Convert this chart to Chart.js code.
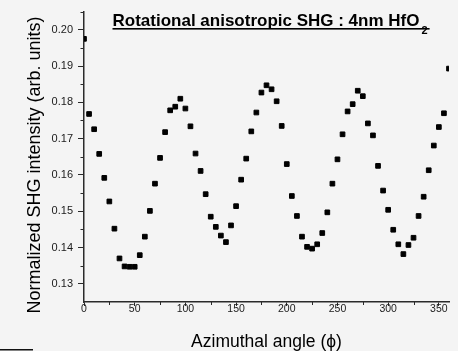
<!DOCTYPE html>
<html>
<head>
<meta charset="utf-8">
<script src="https://cdn.jsdelivr.net/npm/chart.js@4/dist/chart.umd.min.js"></script>
<style>
  html, body { margin: 0; padding: 0; background: #f4f4f4; }
  #wrap { width: 458px; height: 351px; position: relative; }
</style>
</head>
<body>
<div id="wrap"><canvas id="c" width="458" height="351"></canvas></div>
<script>
// Azimuthal angle of the sample (degrees)
const angles = [
  0, 5, 10, 15, 20, 25, 30, 35, 40, 45, 50, 55, 60, 65, 70, 75, 80, 85, 90, 95,
  100, 105, 110, 115, 120, 125, 130, 135, 140, 145, 150, 155, 160, 165, 170, 175,
  180, 185, 190, 195, 200, 205, 210, 215, 220, 225, 230, 235, 240, 245, 250, 255,
  260, 265, 270, 275, 280, 285, 290, 295, 300, 305, 310, 315, 320, 325, 330, 335,
  340, 345, 350, 355, 360
];

// Normalized SHG intensity at each angle (arb. units)
const shg = [
  0.1975, 0.1768, 0.1726, 0.1658, 0.1592, 0.1527, 0.1452, 0.1370, 0.1348, 0.1347,
  0.1347, 0.1379, 0.1430, 0.1501, 0.1576, 0.1647, 0.1718, 0.1778, 0.1788, 0.1810,
  0.1783, 0.1734, 0.1659, 0.1611, 0.1547, 0.1485, 0.1457, 0.1433, 0.1415, 0.1461,
  0.1514, 0.1587, 0.1645, 0.1720, 0.1772, 0.1827, 0.1847, 0.1836, 0.1803, 0.1735,
  0.1630, 0.1542, 0.1487, 0.1430, 0.1402, 0.1397, 0.1409, 0.1440, 0.1497, 0.1576,
  0.1643, 0.1712, 0.1775, 0.1795, 0.1832, 0.1817, 0.1742, 0.1709, 0.1625, 0.1557,
  0.1504, 0.1449, 0.1409, 0.1382, 0.1407, 0.1427, 0.1487, 0.1540, 0.1613, 0.1681,
  0.1732, 0.1770, 0.1893
];

// Axis ticks
const xMajorTicks = [0, 50, 100, 150, 200, 250, 300, 350];
const xMinorTicks = [25, 75, 125, 175, 225, 275, 325];
const yMajorTicks = [0.13, 0.14, 0.15, 0.16, 0.17, 0.18, 0.19, 0.20];
const yMinorTicks = [0.135, 0.145, 0.155, 0.165, 0.175, 0.185, 0.195, 0.205];

// Text
const chartTitle = 'Rotational anisotropic SHG : 4nm HfO';
const chartTitleSub = '2';
const xTitle = 'Azimuthal angle (\u03D5)';
const yTitle = 'Normalized SHG intensity (arb. units)';

const FONT = '"Liberation Sans", Arial, sans-serif';
const AXIS_COLOR = '#2a2a2a';

// Minor ticks, rotated y title, underlined title with subscript
const decorations = {
  id: 'decorations',
  afterDraw(chart) {
    const { ctx, chartArea, scales } = chart;
    const xs = scales.x, ys = scales.y;
    ctx.save();
    ctx.strokeStyle = AXIS_COLOR;
    ctx.lineWidth = 1;
    ctx.beginPath();
    yMinorTicks.forEach(v => {
      const y = Math.round(ys.getPixelForValue(v)) + 0.5;
      ctx.moveTo(chartArea.left - 3.5, y);
      ctx.lineTo(chartArea.left, y);
    });
    xMinorTicks.forEach(v => {
      const x = Math.round(xs.getPixelForValue(v)) + 0.5;
      ctx.moveTo(x, chartArea.bottom);
      ctx.lineTo(x, chartArea.bottom + 3);
    });
    ctx.stroke();

    // y axis title
    ctx.fillStyle = '#000';
    ctx.font = '18px ' + FONT;
    ctx.textAlign = 'center';
    ctx.textBaseline = 'middle';
    ctx.save();
    ctx.translate(35.5, 165);
    ctx.rotate(-Math.PI / 2);
    ctx.fillText(yTitle, 0, 0);
    ctx.restore();

    // chart title
    const tx = 112.5, ty = 26;
    ctx.textAlign = 'left';
    ctx.textBaseline = 'alphabetic';
    ctx.font = 'bold 17px ' + FONT;
    ctx.fillText(chartTitle, tx, ty);
    const w = ctx.measureText(chartTitle).width;
    ctx.font = 'bold 11px ' + FONT;
    ctx.fillText(chartTitleSub, tx + w + 2, ty + 8);
    const ws = ctx.measureText(chartTitleSub).width;
    ctx.fillRect(tx, ty + 2, w + ws + 4, 1.6);

    // short rule at the lower left corner
    ctx.fillStyle = '#111';
    ctx.fillRect(0, 349, 33, 1.5);
    ctx.restore();
  }
};

new Chart(document.getElementById('c'), {
  type: 'scatter',
  data: {
    datasets: [{
      data: angles.map((a, i) => ({ x: a, y: shg[i] })),
      pointStyle: 'rect',
      pointRadius: 3.3,
      pointHoverRadius: 3.3,
      pointBorderWidth: 1,
      backgroundColor: '#000',
      borderColor: '#000',
      showLine: false,
      clip: 0
    }]
  },
  options: {
    responsive: false,
    animation: false,
    devicePixelRatio: 1,
    layout: { padding: { top: 8, right: 9, left: 0, bottom: 0 } },
    plugins: { legend: { display: false }, tooltip: { enabled: false }, title: { display: false } },
    scales: {
      x: {
        type: 'linear',
        min: 0, max: 360,
        afterFit(scale) { scale.height = 49; },
        afterBuildTicks(scale) { scale.ticks = xMajorTicks.map(v => ({ value: v })); },
        ticks: {
          color: '#1a1a1a',
          font: { family: FONT, size: 10.5, lineHeight: 1 },
          padding: -2,
          maxRotation: 0,
          autoSkip: false,
          callback: v => String(v)
        },
        grid: { drawOnChartArea: false, drawTicks: true, tickLength: 4, tickColor: AXIS_COLOR, tickWidth: 1 },
        border: { display: true, color: AXIS_COLOR, width: 1.5 },
        title: {
          display: true, text: xTitle, color: '#000',
          font: { family: FONT, size: 17.5, lineHeight: 1 },
          padding: { top: 0, bottom: 0 }
        }
      },
      y: {
        type: 'linear',
        min: 0.125, max: 0.205,
        afterFit(scale) { scale.width = 84; },
        afterBuildTicks(scale) { scale.ticks = yMajorTicks.map(v => ({ value: v })); },
        ticks: {
          color: '#1a1a1a',
          font: { family: FONT, size: 11 },
          padding: 5,
          autoSkip: false,
          callback: v => v.toFixed(2)
        },
        grid: { drawOnChartArea: false, drawTicks: true, tickLength: 6, tickColor: AXIS_COLOR, tickWidth: 1 },
        border: { display: true, color: AXIS_COLOR, width: 1.5 }
      }
    }
  },
  plugins: [decorations]
});
</script>
</body>
</html>
